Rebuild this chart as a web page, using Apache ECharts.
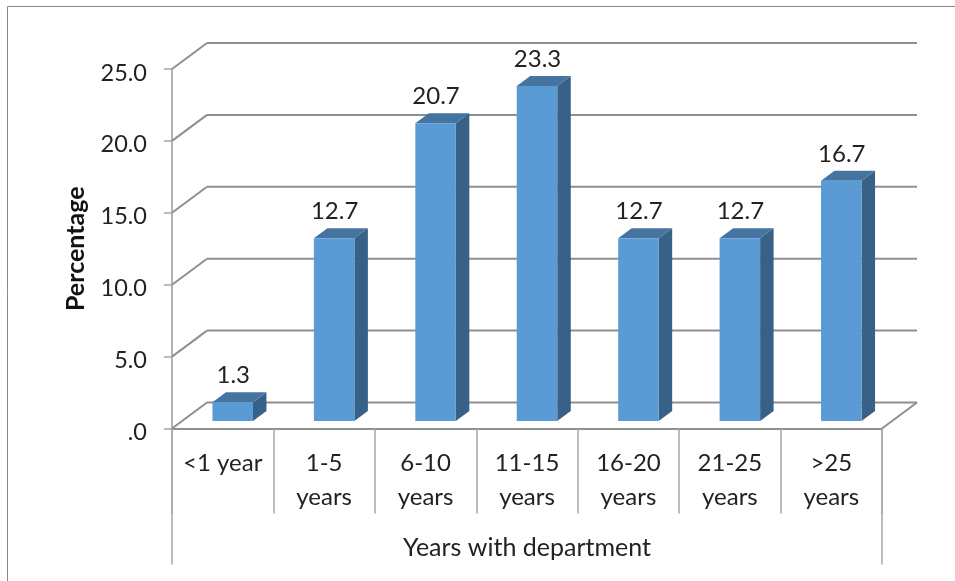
<!DOCTYPE html>
<html>
<head>
<meta charset="utf-8">
<style>html,body{margin:0;padding:0;background:#fff}#c{width:955px;height:581px}</style>
<script src="https://cdn.jsdelivr.net/npm/echarts@6/dist/echarts.min.js"></script>
</head>
<body>
<div id="c"></div>
<script>
const categories = ['<1 year','1-5\nyears','6-10\nyears','11-15\nyears','16-20\nyears','21-25\nyears','>25\nyears'];
const percentages = [1.3,12.7,20.7,23.3,12.7,12.7,16.7];
const valueTicks = [0,5,10,15,20,25];
const font = 'Lato';
const textColor = '#222222';
const lineColor = '#8f8f8f';
const wallDx = 35, wallDy = -26;
const barOffX = 10, barOffY = -7.5, barDx = 13.5, barDy = -10, barW = 40.5;

const chart = echarts.init(document.getElementById('c'), null, {renderer:'canvas'});
function seg(x1,y1,x2,y2,w,c){
  return {type:'line',shape:{x1,y1,x2,y2},style:{stroke:c||lineColor,lineWidth:w||2}};
}
function poly(points,fill){
  return {type:'polygon',shape:{points},style:{fill,stroke:null}};
}
chart.setOption({
  animation:false,
  backgroundColor:'#fff',
  graphic:[{type:'rect',silent:true,z:-10,shape:{x:7.5,y:6.5,width:1000,height:1000},style:{fill:'#fff',stroke:'#868686',lineWidth:1}}],
  grid:{left:172,top:69,width:710,height:359.5},
  xAxis:{
    type:'category',data:categories,
    name:'Years with department',nameLocation:'middle',nameGap:107,
    nameTextStyle:{fontFamily:font,fontSize:25,color:textColor},
    axisLine:{lineStyle:{color:lineColor,width:2}},
    axisTick:{show:true,alignWithLabel:false,length:85,lineStyle:{color:'#a6a6a6',width:1.5}},
    axisLabel:{interval:0,margin:18,fontFamily:font,fontSize:24,color:textColor,lineHeight:34,verticalAlign:'top'}
  },
  yAxis:{
    type:'value',min:0,max:25,interval:5,
    name:'Percentage',nameLocation:'middle',nameGap:84,
    nameTextStyle:{fontFamily:font,fontSize:25,fontWeight:'bold',color:'#111'},
    splitLine:{show:false},
    axisLine:{show:true,lineStyle:{color:'#9a9a9a',width:1.5}},
    axisTick:{show:true,length:8,lineStyle:{color:'#a6a6a6',width:1.5}},
    axisLabel:{margin:25,fontFamily:font,fontSize:23.5,color:textColor,verticalAlign:'top',lineHeight:8,
      formatter:v=> v===0 ? '.0' : v.toFixed(1)}
  },
  series:[
    {
      type:'custom',silent:true,z:1,
      data:valueTicks.map(v=>[0,v]),
      encode:{x:0,y:1},
      renderItem(params,api){
        const g=params.coordSys, y=api.coord([0,api.value(1)])[1];
        const left=g.x,right=g.x+g.width;
        const kids=[
          seg(left,y,left+wallDx,y+wallDy),
          seg(left+wallDx,y+wallDy,right+wallDx,y+wallDy)
        ];
        if(api.value(1)===0){
          kids.push(seg(right,y,right+wallDx,y+wallDy));
          kids.push(seg(left,y,left,564.5,1.5,'#a6a6a6'));
          kids.push(seg(right,y,right,564.5,1.5,'#a6a6a6'));
        }
        return {type:'group',children:kids};
      }
    },
    {
      type:'custom',silent:true,z:2,
      data:percentages.map((v,i)=>[i,v]),
      encode:{x:0,y:1},
      renderItem(params,api){
        const i=api.value(0),v=api.value(1);
        const top=api.coord([i,v]),base=api.coord([i,0]);
        const cx=top[0]+barOffX, x0=cx-barW/2, x1=cx+barW/2;
        const yt=top[1]+barOffY, yb=base[1]+barOffY;
        return {type:'group',children:[
          poly([[x1,yt],[x1+barDx,yt+barDy],[x1+barDx,yb+barDy],[x1,yb]],'#386187'),
          poly([[x0,yt],[x0+barDx,yt+barDy],[x1+barDx,yt+barDy],[x1,yt]],'#44749f'),
          poly([[x0,yt],[x1,yt],[x1,yb],[x0,yb]],'#5b9bd5'),
          {type:'text',style:{x:cx+0.5,y:yt-27,text:v.toFixed(1),fill:textColor,
            font:'24px '+font,align:'center',verticalAlign:'middle'}}
        ]};
      }
    }
  ]
});
</script>
</body>
</html>
